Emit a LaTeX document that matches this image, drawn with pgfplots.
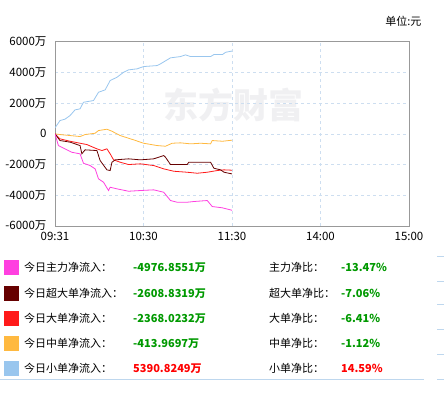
\documentclass[border=0pt]{standalone}
\usepackage{fontspec}
\setmainfont{Noto Sans CJK SC}
\usepackage{pgfplots}
\pgfplotsset{compat=1.18}
\definecolor{cMain}{RGB}{255,64,224}
\definecolor{cSuper}{RGB}{102,0,0}
\definecolor{cLarge}{RGB}{255,26,26}
\definecolor{cMid}{RGB}{255,185,64}
\definecolor{cSmall}{RGB}{153,198,238}
\definecolor{cGrid}{RGB}{205,222,240}
\definecolor{cFrame}{RGB}{153,153,153}
\definecolor{cGreen}{RGB}{0,153,0}
\definecolor{cRed}{RGB}{255,0,0}
\definecolor{cLine}{RGB}{190,215,238}
\definecolor{cWater}{RGB}{240,240,242}
\begin{document}
\begin{tikzpicture}[x=1pt,y=1pt]
\useasboundingbox (0,0) rectangle (444,395);
% watermark
\node[anchor=center,text=cWater,font=\fontsize{35}{37}\selectfont\bfseries] at (233,290) {东方财富};
\begin{axis}[
  at={(55pt,169pt)}, anchor=south west,
  scale only axis, width=354pt, height=184.3pt,
  xmin=0, xmax=240, ymin=-6000, ymax=6000,
  xtick={0,60,120,180,240},
  xticklabels={09:31,10:30,11:30,14:00,15:00},
  ytick={-6000,-4000,-2000,0,2000,4000,6000},
  yticklabels={-6000万,-4000万,-2000万,0,2000万,4000万,6000万},
  tick label style={font=\fontsize{11.5}{13}\selectfont, text=black},
  yticklabel style={xshift=-5pt},
  xticklabel style={yshift=-3pt},
  major tick length=0pt,
  grid=major,
  major grid style={cGrid, dashed, line width=0.6pt},
  axis line style={cFrame, line width=0.8pt},
  scaled y ticks=false,
  clip=true,
]
\addplot[cSmall, line width=0.8pt] coordinates {
(0,390) (3.4,866) (6.8,957) (10.2,1191) (13.6,1562) (17,1628) (19.3,2057) (26.1,2168) (29.5,2708) (34,2864) (37.4,3470) (42,3685) (46.5,4010) (49.9,4166) (55.6,4232) (60.1,4381) (69.2,4446) (71.5,4557) (78.3,4948) (85.1,5032) (88.5,5143) (91.9,5032) (105.5,5032) (107.7,5162) (113.5,5162) (115.7,5312) (120,5391)
};
\addplot[cMid, line width=0.8pt] coordinates {
(0,0) (3.4,-46) (10.2,-111) (17,-176) (20.4,-46) (27.2,39) (29.5,215) (35.2,300) (38.6,170) (44.2,-111) (53.3,-391) (60.1,-612) (69.2,-762) (74.9,-807) (79.4,-612) (85.1,-586) (91.9,-651) (98.7,-612) (105.5,-651) (106.6,-436) (113.5,-482) (120,-414)
};
\addplot[cLarge, line width=0.8pt] coordinates {
(0,0) (3.4,-326) (10.2,-482) (17,-612) (21.6,-697) (28.4,-977) (31.8,-1087) (35.2,-977) (37.4,-1302) (39.7,-1693) (44.2,-1849) (49.9,-1999) (57.9,-1953) (66.9,-2064) (73.7,-2279) (80.5,-2435) (89.6,-2500) (96.4,-2565) (103.2,-2500) (110,-2389) (114.6,-2344) (120,-2368)
};
\addplot[cSuper, line width=0.8pt] coordinates {
(0,0) (3.4,-436) (10.2,-541) (17,-762) (18.2,-1302) (20.4,-1042) (28.4,-1087) (30.6,-1738) (35.2,-2344) (37.4,-2389) (38.6,-1849) (40.8,-1693) (49.9,-1628) (57.9,-1693) (66.9,-1628) (73.7,-1413) (74.9,-1523) (78.3,-1999) (89.6,-1999) (90.7,-1849) (105.5,-1849) (107.7,-2240) (112.3,-2344) (114.6,-2500) (120,-2609)
};
\addplot[cMain, line width=0.8pt] coordinates {
(0,0) (2.3,-762) (6.8,-977) (11.3,-1198) (17,-1302) (19.3,-1914) (23.8,-2064) (27.2,-2279) (29.5,-2930) (32.9,-3151) (36.3,-3691) (37.4,-3476) (42,-3581) (49.9,-3737) (57.9,-3691) (66.9,-3646) (73.7,-3802) (78.3,-4342) (82.8,-4453) (89.6,-4453) (94.1,-4407) (103.2,-4342) (106.6,-4733) (113.5,-4817) (120,-4977)
};
\end{axis}
% unit label
\node[anchor=east,font=\fontsize{11}{13}\selectfont] at (425,374) {单位:元};
% legend rows
\begin{scope}[font=\fontsize{11}{13}\selectfont]
\foreach \yy/\col/\lab/\val/\vcol/\rlab/\pct/\pcol in {
 127.7/cMain/今日主力净流入：/-4976.8551万/cGreen/主力净比：/-13.47\%/cGreen,
 101.7/cSuper/今日超大单净流入：/-2608.8319万/cGreen/超大单净比：/-7.06\%/cGreen,
 76.7/cLarge/今日大单净流入：/-2368.0232万/cGreen/大单净比：/-6.41\%/cGreen,
 51.7/cMid/今日中单净流入：/-413.9697万/cGreen/中单净比：/-1.12\%/cGreen,
 26.7/cSmall/今日小单净流入：/5390.8249万/cRed/小单净比：/14.59\%/cRed}{
  \fill[\col] (4,\yy-7.5) rectangle (19,\yy+7.5);
  \node[anchor=west,inner sep=0] at (24,\yy) {\lab};
  \node[anchor=west,inner sep=0,text=\vcol,font=\fontsize{11}{13}\selectfont\bfseries] at (133,\yy) {\val};
  \node[anchor=west,inner sep=0] at (269,\yy) {\rlab};
  \node[anchor=west,inner sep=0,text=\pcol,font=\fontsize{11}{13}\selectfont\bfseries] at (341,\yy) {\pct};
}
\end{scope}
\draw[cLine, line width=1pt] (0,15) -- (424,15);
\foreach \yy in {138.3,113.3,90,65,40,15} {
  \draw[cLine, line width=1pt] (437,\yy) -- (444,\yy);
}
\end{tikzpicture}
\end{document}
